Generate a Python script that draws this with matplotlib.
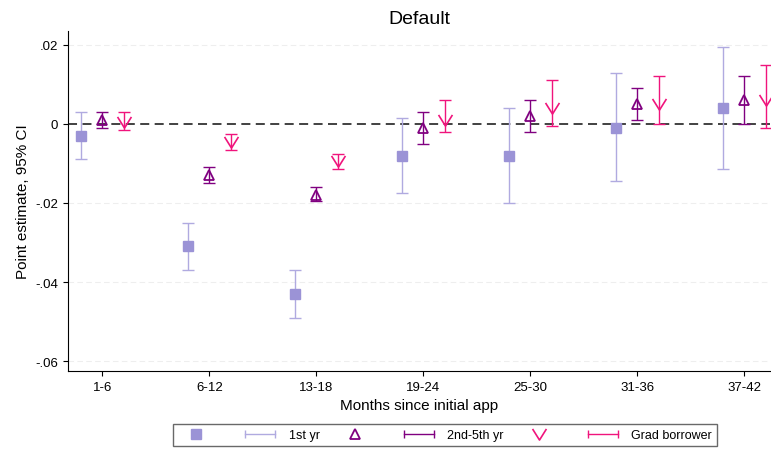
import numpy as np
import matplotlib.pyplot as plt
from matplotlib.path import Path
from matplotlib.lines import Line2D
from matplotlib.legend_handler import HandlerLine2D

plt.rcParams['font.family'] = ['Liberation Sans', 'DejaVu Sans']

cats = ["1-6", "6-12", "13-18", "19-24", "25-30", "31-36", "37-42"]

yr1 = [-0.003, -0.031, -0.043, -0.008, -0.008, -0.001, 0.004]
yr1_lo = [-0.009, -0.037, -0.049, -0.0175, -0.020, -0.0145, -0.0115]
yr1_hi = [0.003, -0.025, -0.037, 0.0015, 0.004, 0.013, 0.0195]

yr25 = [0.001, -0.013, -0.018, -0.001, 0.002, 0.005, 0.006]
yr25_lo = [-0.001, -0.015, -0.0195, -0.005, -0.002, 0.001, 0.0]
yr25_hi = [0.003, -0.011, -0.016, 0.003, 0.006, 0.009, 0.012]

grad = [0.0005, -0.0045, -0.0095, 0.001, 0.004, 0.005, 0.006]
grad_lo = [-0.0015, -0.0065, -0.0115, -0.002, -0.0005, 0.0, -0.001]
grad_hi = [0.003, -0.0025, -0.0075, 0.006, 0.011, 0.012, 0.015]

vee = Path([(-1, 0.8), (0, -0.8), (1, 0.8)], [Path.MOVETO, Path.LINETO, Path.LINETO])

fig = plt.figure(figsize=(7.71, 4.56), dpi=100)
ax = fig.add_axes([68 / 771, 84 / 456, 702 / 771, 340 / 456])
x = np.arange(len(cats))

series = [
    (yr1, yr1_lo, yr1_hi, -0.2, "#b0aae0", dict(marker="s", ms=7, mfc="#9b93d6", mec="#9b93d6")),
    (yr25, yr25_lo, yr25_hi, 0.0, "#800080", dict(marker="^", ms=7, mfc="none", mec="#800080", mew=1.3)),
    (grad, grad_lo, grad_hi, 0.2, "#f0147c", dict(marker=vee, ms=10, mfc="none", mec="#f0147c", mew=1.2)),
]
handles = []
hmap = {}
for vals, lo, hi, off, ec, mk in series:
    v = np.array(vals)
    err = [v - np.array(lo), np.array(hi) - v]
    ax.errorbar(x + off, v, yerr=err, fmt="none", ecolor=ec, elinewidth=1, capsize=4, capthick=1, zorder=2)
    m, = ax.plot(x + off, v, ls="none", zorder=3, **mk)
    hmap[m] = HandlerLine2D(numpoints=1)
    bar = Line2D([], [], color=ec, lw=1, marker="|", ms=6, mew=1)
    handles += [m, bar]

ax.axhline(0, color="#333333", ls=(0, (5, 3)), lw=1.3, zorder=1)
for yv in [0.02, -0.02, -0.04, -0.06]:
    ax.axhline(yv, color="#eeeeee", ls=(0, (5, 3)), lw=0.8, zorder=0)
ax.set_xlim(-0.32, 6.24)
ax.set_ylim(-0.0625, 0.0235)
ax.set_xticks(x)
ax.set_xticklabels(cats, fontsize=9.5)
ax.set_yticks([0.02, 0, -0.02, -0.04, -0.06])
ax.set_yticklabels([".02", "0", "-.02", "-.04", "-.06"], fontsize=9.5)
for s in ["top", "right"]:
    ax.spines[s].set_visible(False)
ax.set_title("Default", fontsize=14)
ax.set_xlabel("Months since initial app", fontsize=11, labelpad=4)
ax.set_ylabel("Point estimate, 95% CI", fontsize=11)

labels = ["", "1st yr", "", "2nd-5th yr", "", "Grad borrower"]
fig.legend(handles, labels, handler_map=hmap, loc="lower center", bbox_to_anchor=(0.577, 0.005),
           ncol=6, fontsize=9, numpoints=2, frameon=True, fancybox=False, edgecolor="#444444",
           handlelength=3, handletextpad=0.8, columnspacing=1.3, borderpad=0.4)

fig.savefig("out.png", dpi=100)
